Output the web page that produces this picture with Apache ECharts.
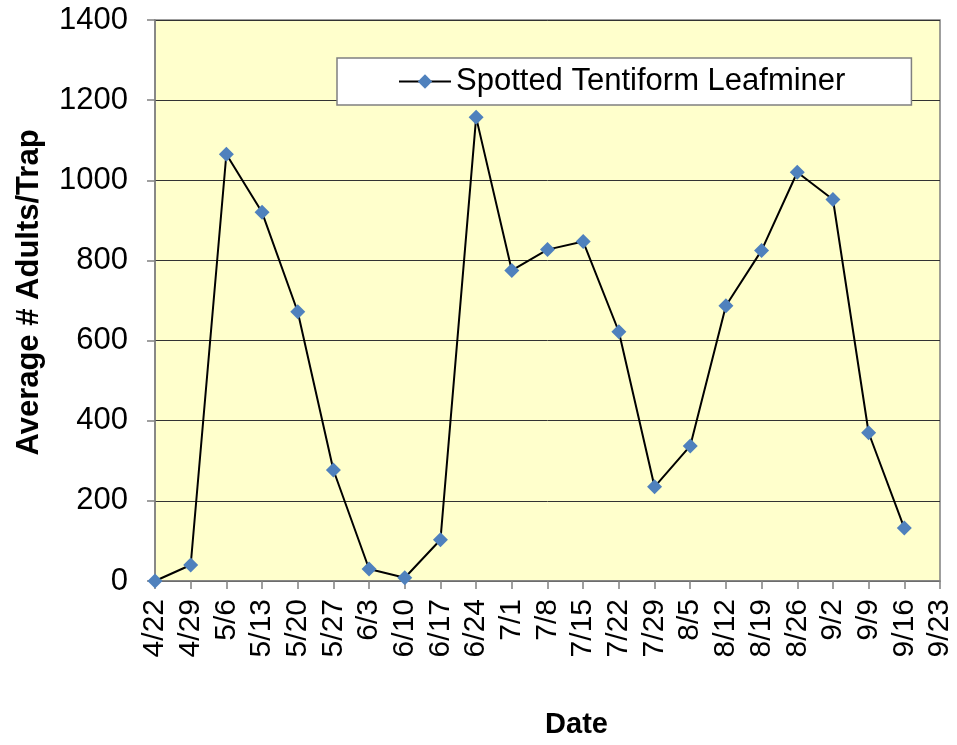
<!DOCTYPE html>
<html>
<head>
<meta charset="utf-8">
<script src="https://cdn.jsdelivr.net/npm/echarts@6/dist/echarts.min.js"></script>
<style>
  html, body { margin: 0; padding: 0; background: #fff; }
  #chart { width: 957px; height: 745px; }
</style>
</head>
<body>
<div id="chart"></div>
<script>
const dates = ["4/22", "4/29", "5/6", "5/13", "5/20", "5/27", "6/3", "6/10", "6/17", "6/24", "7/1",
  "7/8", "7/15", "7/22", "7/29", "8/5", "8/12", "8/19", "8/26", "9/2", "9/9", "9/16", "9/23"];
const leafminer = [0, 40, 1065, 920, 672, 277, 30, 8, 103, 1157, 775,
  827, 847, 622, 235, 337, 687, 825, 1020, 952, 370, 132, null];
const yTicks = [0, 200, 400, 600, 800, 1000, 1200, 1400];

const chart = echarts.init(document.getElementById("chart"));
const font = "Liberation Sans, Arial, sans-serif";

chart.setOption({
  backgroundColor: "#ffffff",
  animation: false,
  grid: {
    left: 155, right: 17, top: 20, bottom: 164,
    show: true,
    backgroundColor: "#FFFFCC",
    borderColor: "#808080",
    borderWidth: 1.5
  },
  legend: {
    data: ["Spotted Tentiform Leafminer"],
    left: 337, top: 58,
    backgroundColor: "#ffffff",
    borderColor: "#808080",
    borderWidth: 1.5,
    padding: [8, 66, 8, 61],
    itemWidth: 52, itemHeight: 18,
    textStyle: { fontFamily: font, fontSize: 31, color: "#000" }
  },
  xAxis: {
    type: "category",
    data: dates,
    boundaryGap: false,
    name: "Date",
    nameLocation: "middle",
    nameGap: 129,
    nameTextStyle: { fontFamily: font, fontSize: 29, fontWeight: "bold", color: "#000", padding: [0, 0, 0, 58] },
    axisLine: { lineStyle: { color: "#808080", width: 1.5 } },
    axisTick: { show: true, length: 8, lineStyle: { color: "#808080", width: 1.5 } },
    axisLabel: {
      rotate: 90, interval: 0, margin: 18,
      fontFamily: font, fontSize: 30, color: "#000"
    },
    splitLine: { show: false }
  },
  yAxis: {
    type: "value",
    min: 0, max: 1400, interval: 200,
    name: "Average # Adults/Trap",
    nameLocation: "middle",
    nameGap: 110,
    nameTextStyle: { fontFamily: font, fontSize: 31, fontWeight: "bold", color: "#000", padding: [0, 0, 0, 16] },
    axisLine: { show: true, lineStyle: { color: "#808080", width: 1.5 } },
    axisTick: { show: true, length: 8, lineStyle: { color: "#808080", width: 1.5 } },
    axisLabel: {
      margin: 27, fontFamily: font, fontSize: 31, color: "#000",
      formatter: v => yTicks.includes(v) ? String(v) : ""
    },
    splitLine: { lineStyle: { color: "#333333", width: 1 } }
  },
  series: [{
    name: "Spotted Tentiform Leafminer",
    type: "line",
    data: leafminer,
    symbol: "diamond",
    symbolSize: 15,
    showAllSymbol: true,
    itemStyle: { color: "#4F81BD" },
    lineStyle: { color: "#000000", width: 2 },
    connectNulls: false
  }]
});
</script>
</body>
</html>
